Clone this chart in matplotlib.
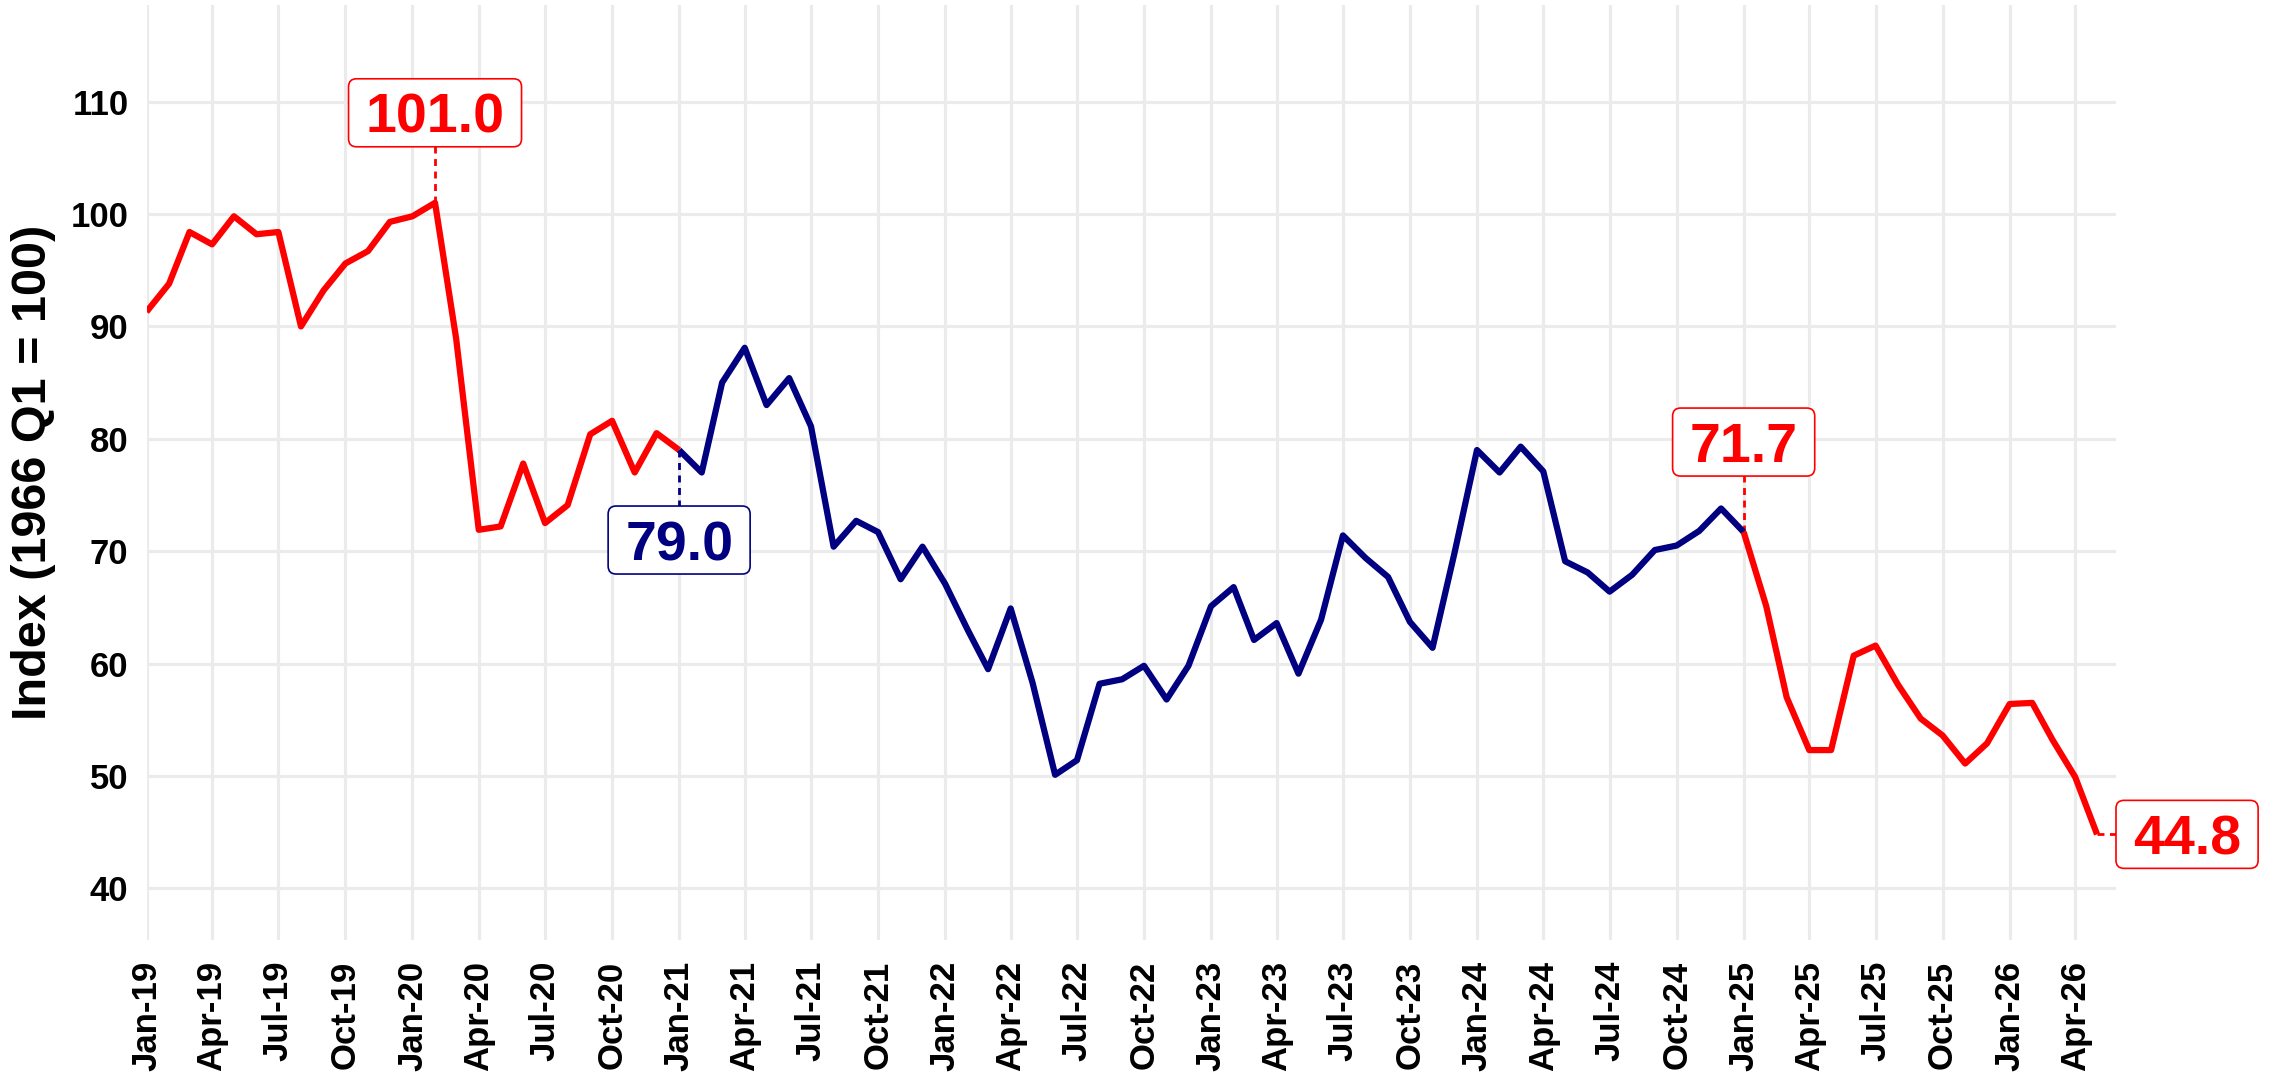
import pandas as pd
import matplotlib
matplotlib.use('Agg')
import matplotlib.pyplot as plt
import matplotlib.dates as mdates
from matplotlib.lines import Line2D
from matplotlib.patches import FancyBboxPatch
from matplotlib.transforms import IdentityTransform

plt.rcParams['font.family'] = 'Liberation Sans'

# monthly index, Jan 2019 - May 2026
months = pd.date_range('2019-01-01', periods=89, freq='MS')
index_values = [
    91.3, 93.8, 98.4, 97.3, 99.8, 98.2, 98.4, 90.0, 93.2, 95.6, 96.7, 99.3,   # 2019
    99.8, 101.0, 88.9, 71.9, 72.2, 77.8, 72.5, 74.1, 80.4, 81.6, 77.0, 80.5,  # 2020
    79.0, 77.0, 85.0, 88.1, 83.0, 85.4, 81.1, 70.4, 72.7, 71.7, 67.5, 70.4,   # 2021
    67.1, 63.0, 59.5, 64.9, 58.3, 50.1, 51.4, 58.2, 58.6, 59.8, 56.8, 59.8,   # 2022
    65.1, 66.8, 62.1, 63.6, 59.1, 63.9, 71.4, 69.4, 67.7, 63.7, 61.4, 69.8,   # 2023
    79.0, 77.0, 79.3, 77.1, 69.1, 68.1, 66.4, 67.9, 70.1, 70.5, 71.8, 73.8,   # 2024
    71.7, 65.1, 57.0, 52.3, 52.3, 60.7, 61.6, 58.1, 55.1, 53.6, 51.1, 52.9,   # 2025
    56.4, 56.5, 53.2, 49.9, 44.8,                                             # 2026
]

# colour periods (start, end index, inclusive)
periods = [(0, 24, 'red'), (24, 72, 'navy'), (72, 88, 'red')]
colors = {'red': '#FF0000', 'navy': '#000080'}

# labelled months
callout_idx = [13, 24, 72, 88]
callout_text = ['101.0', '79.0', '71.7', '44.8']
callout_color = ['red', 'navy', 'red', 'red']

y_ticks = [40, 50, 60, 70, 80, 90, 100, 110]

W, H = 2278, 1076
fig = plt.figure(figsize=(W / 100, H / 100), dpi=100)
ax = fig.add_axes([146.5 / W, 136 / H, (2116 - 146.5) / W, 935 / H])

for s, e, c in periods:
    ax.plot(months[s:e + 1], index_values[s:e + 1], color=colors[c], lw=4.5,
            solid_joinstyle='round', solid_capstyle='butt', zorder=3)

ax.set_xlim(pd.Timestamp('2019-01-01'), pd.Timestamp('2026-05-27'))
ax.set_ylim(35.4, 118.6)
ax.set_yticks(y_ticks)
ax.xaxis.set_major_locator(mdates.MonthLocator(bymonth=[1, 4, 7, 10]))
ax.xaxis.set_major_formatter(mdates.DateFormatter('%b-%y'))
ax.tick_params(axis='x', length=0, pad=15, labelsize=25, rotation=90)
ax.tick_params(axis='y', length=0, pad=13, labelsize=25)
for lab in ax.get_xticklabels() + ax.get_yticklabels():
    lab.set_fontweight('bold')
    lab.set_color('black')

ax.grid(True, color='#EBEBEB', lw=2.3, zorder=0)
ax.set_axisbelow(True)
for sp in ax.spines.values():
    sp.set_visible(False)

ax.set_ylabel('Index (1966 Q1 = 100)', fontsize=35, fontweight='bold', va='center')
ax.yaxis.set_label_coords(-0.0576, 0.5)

# value callouts, offsets in pixels from the point
offsets = [(0, 90), (0, -90), (0, 90), (90, 0)]
fig.canvas.draw()
rend = fig.canvas.get_renderer()
ident = IdentityTransform()
for i, txt, c, (dx, dy) in zip(callout_idx, callout_text, callout_color, offsets):
    col = colors[c]
    px, py = ax.transData.transform((mdates.date2num(months[i]), index_values[i]))
    cx, cy = px + dx, py + dy
    ax.add_line(Line2D([px, cx], [py, cy], transform=ident, color=col, lw=2,
                       linestyle=(0, (2.5, 2)), clip_on=False, zorder=2))
    t = ax.text(cx, cy, txt, transform=ident, ha='center', va='center_baseline',
                fontsize=40, fontweight='bold', color=col, zorder=6, clip_on=False)
    bb = t.get_window_extent(rend)
    bw, bh = bb.width + 34, 68
    ax.add_patch(FancyBboxPatch((cx - bw / 2, cy - bh / 2), bw, bh,
                                boxstyle='round,pad=0,rounding_size=8', transform=ident,
                                facecolor='white', edgecolor=col, lw=1.2,
                                clip_on=False, zorder=5))

fig.savefig('out.png', dpi=100)
